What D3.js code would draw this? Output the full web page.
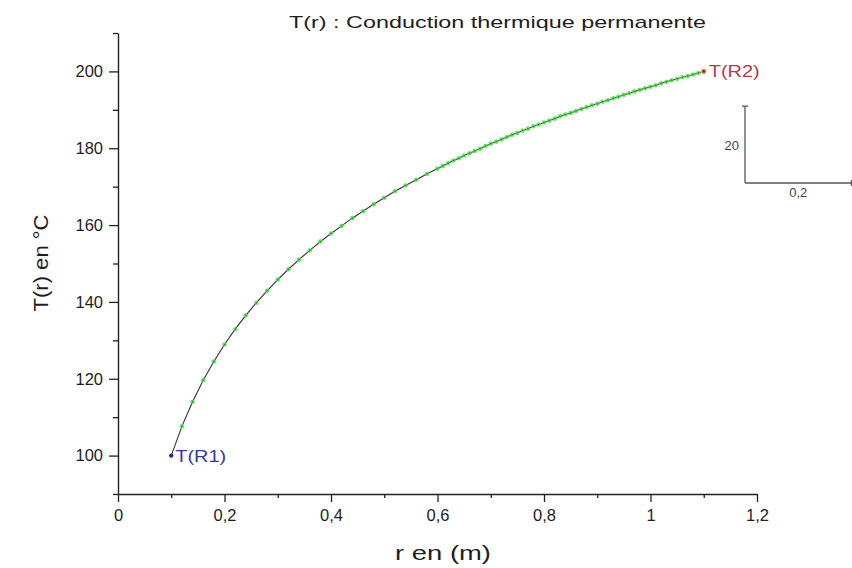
<!DOCTYPE html>
<html>
<head>
<meta charset="utf-8">
<script src="https://cdn.jsdelivr.net/npm/d3@7/dist/d3.min.js"></script>
<style>
  html, body { margin: 0; padding: 0; background: #fff; }
  svg { display: block; font-family: "Liberation Sans", Arial, sans-serif; }
</style>
</head>
<body>
<svg id="chart" width="852" height="568"></svg>
<script>
// Radius (m) and steady-state temperature (°C) through the cylinder wall
const radius = [0.10,0.12,0.14,0.16,0.18,0.20,0.22,0.24,0.26,0.28,0.30,0.32,0.34,0.36,0.38,0.40,0.42,0.44,0.46,0.48,0.50,
  0.52,0.54,0.56,0.58,0.60,
  0.61,0.62,0.63,0.64,0.65,0.66,0.67,0.68,0.69,0.70,0.71,0.72,0.73,0.74,0.75,0.76,0.77,0.78,0.79,0.80,
  0.81,0.82,0.83,0.84,0.85,0.86,0.87,0.88,0.89,0.90,0.91,0.92,0.93,0.94,0.95,0.96,0.97,0.98,0.99,1.00,
  1.01,1.02,1.03,1.04,1.05,1.06,1.07,1.08,1.09,1.10];
const temperature = [100.0,107.6,114.0,119.6,124.5,128.9,132.9,136.5,139.8,142.9,145.8,148.5,151.0,153.4,155.7,157.8,159.8,161.8,163.6,165.4,167.1,
  168.8,170.3,171.8,173.3,174.7,
  175.4,176.1,176.8,177.4,178.1,178.7,179.3,179.9,180.6,181.2,181.7,182.3,182.9,183.5,184.0,184.6,185.1,185.7,186.2,186.7,
  187.2,187.7,188.3,188.8,189.2,189.7,190.2,190.7,191.2,191.6,192.1,192.5,193.0,193.4,193.9,194.3,194.8,195.2,195.6,196.0,
  196.4,196.9,197.3,197.7,198.1,198.5,198.8,199.2,199.6,200.0];

const xTicks = [0, 0.2, 0.4, 0.6, 0.8, 1.0, 1.2];
const xTickLabels = ["0", "0,2", "0,4", "0,6", "0,8", "1", "1,2"];
const xMinorTicks = [0.1, 0.3, 0.5, 0.7, 0.9, 1.1];
const yTicks = [100, 120, 140, 160, 180, 200];
const yTickLabels = ["100", "120", "140", "160", "180", "200"];
const yMinorTicks = [90, 110, 130, 150, 170, 190, 210];

const endLabels = ["T(R1)", "T(R2)"];
const scaleBar = { dy: 20, dx: 0.2, dyLabel: "20", dxLabel: "0,2" };

const svg = d3.select("#chart");
const x = d3.scaleLinear().domain([0, 1.2]).range([118, 757]);
const y = d3.scaleLinear().domain([90, 210]).range([494, 33]);

const axisColor = "#222";
const textColor = "#1e1e1e";

// Title
svg.append("text")
  .attr("x", 289).attr("y", 28)
  .attr("font-size", 17)
  .attr("fill", textColor)
  .attr("textLength", 417).attr("lengthAdjust", "spacingAndGlyphs")
  .text("T(r) : Conduction thermique permanente");

// X axis
const xAxis = svg.append("g").attr("transform", `translate(0,${y(90)})`);
xAxis.call(d3.axisBottom(x).tickValues(xTicks).tickSize(8)
  .tickFormat((d, i) => xTickLabels[i]).tickSizeOuter(0));
xAxis.selectAll(".domain").attr("stroke", axisColor).attr("stroke-width", 1.4);
xAxis.selectAll(".tick line").attr("stroke", axisColor).attr("stroke-width", 1.3);
xAxis.selectAll(".tick text").attr("font-size", 16.5).attr("fill", textColor)
  .attr("font-family", "Liberation Sans, Arial, sans-serif").attr("y", 11).attr("dy", "0.95em");
const xMinor = svg.append("g").attr("transform", `translate(0,${y(90)})`);
xMinor.call(d3.axisBottom(x).tickValues(xMinorTicks).tickSize(4).tickFormat("").tickSizeOuter(0));
xMinor.select(".domain").remove();
xMinor.selectAll(".tick line").attr("stroke", axisColor).attr("stroke-width", 1.3);

// Y axis
const yAxis = svg.append("g").attr("transform", `translate(${x(0)},0)`);
yAxis.call(d3.axisLeft(y).tickValues(yTicks).tickSize(9)
  .tickFormat((d, i) => yTickLabels[i]).tickSizeOuter(0));
yAxis.selectAll(".domain").attr("stroke", axisColor).attr("stroke-width", 1.4);
yAxis.selectAll(".tick line").attr("stroke", axisColor).attr("stroke-width", 1.3);
yAxis.selectAll(".tick text").attr("font-size", 16.5).attr("fill", textColor)
  .attr("font-family", "Liberation Sans, Arial, sans-serif").attr("x", -15);
const yMinor = svg.append("g").attr("transform", `translate(${x(0)},0)`);
yMinor.call(d3.axisLeft(y).tickValues(yMinorTicks).tickSize(5).tickFormat("").tickSizeOuter(0));
yMinor.select(".domain").remove();
yMinor.selectAll(".tick line").attr("stroke", axisColor).attr("stroke-width", 1.3);

// Axis titles
svg.append("text")
  .attr("x", 443).attr("y", 560)
  .attr("text-anchor", "middle")
  .attr("font-size", 20).attr("fill", textColor)
  .attr("textLength", 96).attr("lengthAdjust", "spacingAndGlyphs")
  .text("r en (m)");
svg.append("text")
  .attr("transform", `translate(48,263) rotate(-90)`)
  .attr("text-anchor", "middle")
  .attr("font-size", 20).attr("fill", textColor)
  .attr("textLength", 97).attr("lengthAdjust", "spacingAndGlyphs")
  .text("T(r) en °C");

// Temperature profile
const pts = radius.map((r, i) => ({ r, t: temperature[i] }));
const line = d3.line().x(d => x(d.r)).y(d => y(d.t));
svg.append("path")
  .datum(pts)
  .attr("d", line)
  .attr("fill", "none")
  .attr("stroke", "#333")
  .attr("stroke-width", 1.1);

const inner = pts.slice(1, pts.length - 1);
svg.append("g").selectAll("circle")
  .data(inner).join("circle")
  .attr("cx", d => x(d.r)).attr("cy", d => y(d.t))
  .attr("r", 2.3)
  .attr("fill", "#4fe04f")
  .attr("fill-opacity", 0.85);
svg.append("g").selectAll("circle")
  .data(inner).join("circle")
  .attr("cx", d => x(d.r)).attr("cy", d => y(d.t))
  .attr("r", 0.7)
  .attr("fill", "#3d6e3d");

// End points
const first = pts[0], last = pts[pts.length - 1];
svg.append("circle").attr("cx", x(first.r)).attr("cy", y(first.t))
  .attr("r", 2.2).attr("fill", "#2a2f80");
svg.append("text").attr("x", x(first.r) + 4).attr("y", y(first.t) + 6)
  .attr("font-size", 16).attr("fill", "#3838a8")
  .attr("textLength", 51).attr("lengthAdjust", "spacingAndGlyphs").text(endLabels[0]);
svg.append("circle").attr("cx", x(last.r)).attr("cy", y(last.t))
  .attr("r", 2.8).attr("fill", "#f0a070");
svg.append("circle").attr("cx", x(last.r)).attr("cy", y(last.t))
  .attr("r", 1.4).attr("fill", "#553333");
svg.append("text").attr("x", x(last.r) + 5).attr("y", y(last.t) + 6)
  .attr("font-size", 16).attr("fill", "#b43a4a")
  .attr("textLength", 51).attr("lengthAdjust", "spacingAndGlyphs").text(endLabels[1]);

// Scale bar
const sbX = 745, sbY = 183;
const sbH = y(90) - y(90 + scaleBar.dy);
const sbW = x(scaleBar.dx) - x(0);
const sb = svg.append("g").attr("stroke", "#555").attr("stroke-width", 1.3);
sb.append("line").attr("x1", sbX).attr("y1", sbY).attr("x2", sbX).attr("y2", sbY - sbH);
sb.append("line").attr("x1", sbX - 3).attr("y1", sbY - sbH).attr("x2", sbX + 3).attr("y2", sbY - sbH);
sb.append("line").attr("x1", sbX).attr("y1", sbY).attr("x2", sbX + sbW).attr("y2", sbY);
sb.append("line").attr("x1", sbX + sbW).attr("y1", sbY - 3).attr("x2", sbX + sbW).attr("y2", sbY + 3);
svg.append("text").attr("x", 739).attr("y", sbY - sbH / 2 + 5)
  .attr("text-anchor", "end").attr("font-size", 13).attr("fill", "#444").text(scaleBar.dyLabel);
svg.append("text").attr("x", sbX + sbW / 2).attr("y", sbY + 14)
  .attr("text-anchor", "middle").attr("font-size", 13).attr("fill", "#444").text(scaleBar.dxLabel);
</script>
</body>
</html>
